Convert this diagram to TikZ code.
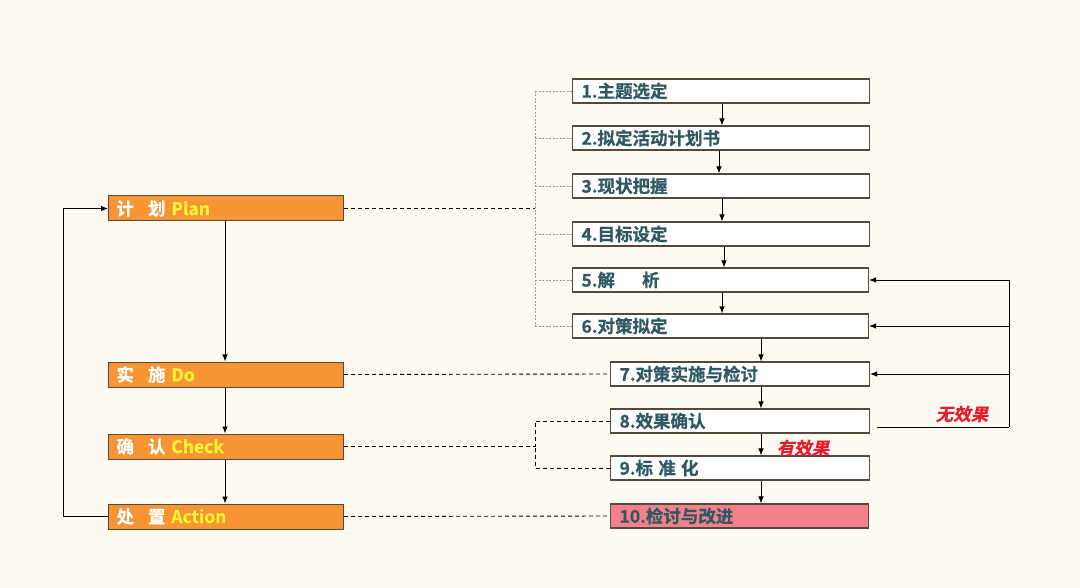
\documentclass[tikz,border=0pt]{standalone}
\usepackage{fontspec}
\usetikzlibrary{arrows.meta,calc}
\newfontfamily\cjk{Noto Sans CJK SC Bold}[FakeBold=0.6]
\newfontfamily\cjksl{Noto Sans CJK SC Bold}[FakeSlant=0.22,FakeBold=0.6]
\definecolor{bgc}{HTML}{FDFBF1}
\definecolor{orng}{HTML}{F79433}
\definecolor{teal}{HTML}{2F5865}
\definecolor{bord}{HTML}{55493E}
\definecolor{pinkc}{HTML}{F4808A}
\definecolor{ylw}{HTML}{FFF533}
\definecolor{redc}{HTML}{E8192C}
\tikzset{
  x=1pt,y=-1pt,
  rbox/.style={draw=bord,line width=1.1pt,fill=white,anchor=west,minimum height=24pt,inner ysep=0pt,inner xsep=9pt,align=left,font=\cjk\fontsize{17.5}{18}\selectfont,text=teal},
  lbox/.style={draw=bord,line width=1pt,fill=orng,anchor=west,minimum height=25pt,inner ysep=0pt,inner xsep=8pt,text width=219pt,align=left,font=\cjk\fontsize{17.5}{18}\selectfont,text=white},
  arr/.style={line width=0.9pt,-{Latex[length=7pt,width=5.5pt]}},
  plain/.style={line width=0.9pt},
  dsh/.style={line width=0.9pt,dash pattern=on 4pt off 3pt},
  gdot/.style={line width=0.7pt,draw=gray!80,dash pattern=on 2pt off 1.5pt},
  lbl/.style={font=\cjksl\fontsize{17.5}{18}\selectfont,text=redc,inner sep=0pt}
}
\begin{document}
\begin{tikzpicture}
\fill[bgc] (0,0) rectangle (1080,588);
\useasboundingbox (0,0) rectangle (1080,588);
% left column
\node[lbox] (plan) at (108,208.5) {计\hspace{0.8em}划 \textcolor{ylw}{Plan}};
\node[lbox] (do) at (108,374.5) {实\hspace{0.8em}施 \textcolor{ylw}{Do}};
\node[lbox] (check) at (108,446.5) {确\hspace{0.8em}认 \textcolor{ylw}{Check}};
\node[lbox] (act) at (108,516.5) {处\hspace{0.8em}置 \textcolor{ylw}{Action}};
% right column
\node[rbox,text width=279pt] (s1) at (572,91) {1.主题选定};
\node[rbox,text width=279pt] (s2) at (572,138) {2.拟定活动计划书};
\node[rbox,text width=279pt] (s3) at (572,186) {3.现状把握};
\node[rbox,text width=279pt] (s4) at (572,234) {4.目标设定};
\node[rbox,text width=278pt] (s5) at (572,280) {5.解\hspace{1.55em}析};
\node[rbox,text width=278pt] (s6) at (572,326) {6.对策拟定};
\node[rbox,text width=241pt] (s7) at (610,374) {7.对策实施与检讨};
\node[rbox,text width=241pt] (s8) at (610,421) {8.效果确认};
\node[rbox,text width=241pt] (s9) at (610,468) {9.标\hspace{0.3em}准\hspace{0.3em}化};
\node[rbox,text width=240pt,fill=pinkc] (s10) at (610,516) {10.检讨与改进};
% left arrows
\draw[arr] ([xshift=117pt]plan.south west) -- ([xshift=117pt]do.north west);
\draw[arr] ([xshift=117pt]do.south west) -- ([xshift=117pt]check.north west);
\draw[arr] ([xshift=117pt]check.south west) -- ([xshift=117pt]act.north west);
\coordinate (lb) at (63,516.5);
\draw[arr] (act.west) -- (lb) |- (plan.west);
% right arrows
\draw[arr] ([xshift=150pt]s1.south west) -- ([xshift=150pt]s2.north west);
\draw[arr] ([xshift=147pt]s2.south west) -- ([xshift=147pt]s3.north west);
\draw[arr] ([xshift=150pt]s3.south west) -- ([xshift=150pt]s4.north west);
\draw[arr] ([xshift=152pt]s4.south west) -- ([xshift=152pt]s5.north west);
\draw[arr] ([xshift=150pt]s5.south west) -- ([xshift=150pt]s6.north west);
\draw[arr] ([xshift=189pt]s6.south west) -- ([xshift=151pt]s7.north west);
\draw[arr] ([xshift=151pt]s7.south west) -- ([xshift=151pt]s8.north west);
\draw[arr] ([xshift=151pt]s8.south west) -- ([xshift=151pt]s9.north west);
\draw[arr] ([xshift=151pt]s9.south west) -- ([xshift=151pt]s10.north west);
% feedback
\coordinate (fbs) at (877,427);
\coordinate (fbt) at (1009,427);
\draw[plain] (fbs) -- (fbt);
\draw[arr] (fbt) |- (s5.east);
\draw[arr] (fbt |- s6.east) -- (s6.east);
\draw[arr] (fbt |- s7.east) -- (s7.east);
\node[lbl] (nx) at (962,414) {无效果};
\node[lbl] (yx) at (803,448) {有效果};
% dashed links
\coordinate (br) at (535,208.5);
\draw[dsh] (plan.east) -- (br);
\draw[gdot] (s1.west -| br) -- (s6.west -| br);
\foreach \k in {1,...,6}{\draw[gdot] (s\k.west -| br) -- (s\k.west);}
\draw[dsh] (do.east) -- (s7.west);
\coordinate (cb) at (535,446.5);
\draw[dsh] (check.east) -- (cb);
\draw[dsh] (s8.west) -| (cb);
\draw[dsh] (s9.west) -| (cb);
\draw[dsh] (act.east) -- (s10.west);
\end{tikzpicture}
\end{document}
